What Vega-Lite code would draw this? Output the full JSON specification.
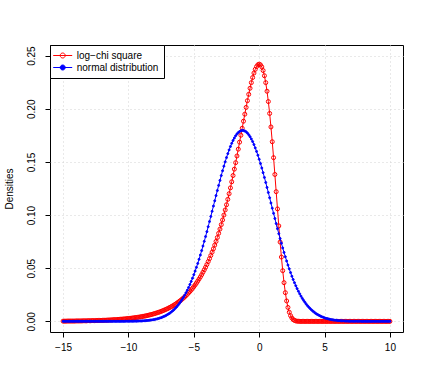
{
"$schema":"https://vega.github.io/schema/vega-lite/v6.json",
"width":353,"height":287,
"autosize":{"type":"none"},
"padding":{"left":50,"top":45,"right":26,"bottom":56},
"background":"white",
"config":{
"font":"Liberation Sans",
"view":{"stroke":"#000000","strokeWidth":1},
"axis":{"domain":false,"tickColor":"#000000","tickSize":5,"labelColor":"#000000","labelFontSize":10,"titleFontSize":10,"titleFontWeight":"normal","titleColor":"#000000","gridColor":"#D3D3D3","gridDash":[1,3],"gridWidth":1},
"legend":{"title":null,"orient":"top-left","offset":0,"padding":5,"strokeColor":"#000000","fillColor":"#FFFFFF","cornerRadius":0,"symbolType":"M-1.46,0H2.34M0.94,0A0.5,0.5 0 1,0 -0.06,0A0.5,0.5 0 1,0 0.94,0","symbolSize":100,"symbolStrokeWidth":1,"labelFontSize":10,"labelColor":"#000000","labelOffset":10.7,"rowPadding":1}
},
"data":{"values":[
{"x":-15,"lc":0.0002,"nd":0},{"x":-14.9,"lc":0.0002,"nd":0},{"x":-14.8,"lc":0.0002,"nd":0},{"x":-14.7,"lc":0.0003,"nd":0},{"x":-14.6,"lc":0.0003,"nd":0},
{"x":-14.5,"lc":0.0003,"nd":0},{"x":-14.4,"lc":0.0003,"nd":0},{"x":-14.3,"lc":0.0003,"nd":0},{"x":-14.2,"lc":0.0003,"nd":0},{"x":-14.1,"lc":0.0003,"nd":0},
{"x":-14,"lc":0.0004,"nd":0},{"x":-13.9,"lc":0.0004,"nd":0},{"x":-13.8,"lc":0.0004,"nd":0},{"x":-13.7,"lc":0.0004,"nd":0},{"x":-13.6,"lc":0.0004,"nd":0},
{"x":-13.5,"lc":0.0005,"nd":0},{"x":-13.4,"lc":0.0005,"nd":0},{"x":-13.3,"lc":0.0005,"nd":0},{"x":-13.2,"lc":0.0005,"nd":0},{"x":-13.1,"lc":0.0006,"nd":0},
{"x":-13,"lc":0.0006,"nd":0},{"x":-12.9,"lc":0.0006,"nd":0},{"x":-12.8,"lc":0.0007,"nd":0},{"x":-12.7,"lc":0.0007,"nd":0},{"x":-12.6,"lc":0.0007,"nd":0},
{"x":-12.5,"lc":0.0008,"nd":0},{"x":-12.4,"lc":0.0008,"nd":0},{"x":-12.3,"lc":0.0009,"nd":0},{"x":-12.2,"lc":0.0009,"nd":0},{"x":-12.1,"lc":0.0009,"nd":0},
{"x":-12,"lc":0.001,"nd":0},{"x":-11.9,"lc":0.001,"nd":0},{"x":-11.8,"lc":0.0011,"nd":0},{"x":-11.7,"lc":0.0011,"nd":0},{"x":-11.6,"lc":0.0012,"nd":0},
{"x":-11.5,"lc":0.0013,"nd":0},{"x":-11.4,"lc":0.0013,"nd":0},{"x":-11.3,"lc":0.0014,"nd":0},{"x":-11.2,"lc":0.0015,"nd":0},{"x":-11.1,"lc":0.0016,"nd":0},
{"x":-11,"lc":0.0016,"nd":0},{"x":-10.9,"lc":0.0017,"nd":0},{"x":-10.8,"lc":0.0018,"nd":0},{"x":-10.7,"lc":0.0019,"nd":0},{"x":-10.6,"lc":0.002,"nd":0},
{"x":-10.5,"lc":0.0021,"nd":0},{"x":-10.4,"lc":0.0022,"nd":0},{"x":-10.3,"lc":0.0023,"nd":0},{"x":-10.2,"lc":0.0024,"nd":0.0001},{"x":-10.1,"lc":0.0026,"nd":0.0001},
{"x":-10,"lc":0.0027,"nd":0.0001},{"x":-9.9,"lc":0.0028,"nd":0.0001},{"x":-9.8,"lc":0.003,"nd":0.0001},{"x":-9.7,"lc":0.0031,"nd":0.0001},{"x":-9.6,"lc":0.0033,"nd":0.0002},
{"x":-9.5,"lc":0.0035,"nd":0.0002},{"x":-9.4,"lc":0.0036,"nd":0.0002},{"x":-9.3,"lc":0.0038,"nd":0.0003},{"x":-9.2,"lc":0.004,"nd":0.0003},{"x":-9.1,"lc":0.0042,"nd":0.0004},
{"x":-9,"lc":0.0044,"nd":0.0004},{"x":-8.9,"lc":0.0047,"nd":0.0005},{"x":-8.8,"lc":0.0049,"nd":0.0006},{"x":-8.7,"lc":0.0051,"nd":0.0007},{"x":-8.6,"lc":0.0054,"nd":0.0008},
{"x":-8.5,"lc":0.0057,"nd":0.0009},{"x":-8.4,"lc":0.006,"nd":0.001},{"x":-8.3,"lc":0.0063,"nd":0.0012},{"x":-8.2,"lc":0.0066,"nd":0.0014},{"x":-8.1,"lc":0.007,"nd":0.0016},
{"x":-8,"lc":0.0073,"nd":0.0018},{"x":-7.9,"lc":0.0077,"nd":0.0021},{"x":-7.8,"lc":0.0081,"nd":0.0024},{"x":-7.7,"lc":0.0085,"nd":0.0027},{"x":-7.6,"lc":0.0089,"nd":0.0031},
{"x":-7.5,"lc":0.0094,"nd":0.0035},{"x":-7.4,"lc":0.0099,"nd":0.004},{"x":-7.3,"lc":0.0104,"nd":0.0045},{"x":-7.2,"lc":0.0109,"nd":0.0051},{"x":-7.1,"lc":0.0115,"nd":0.0057},
{"x":-7,"lc":0.012,"nd":0.0065},{"x":-6.9,"lc":0.0127,"nd":0.0072},{"x":-6.8,"lc":0.0133,"nd":0.0081},{"x":-6.7,"lc":0.014,"nd":0.0091},{"x":-6.6,"lc":0.0147,"nd":0.0101},
{"x":-6.5,"lc":0.0155,"nd":0.0112},{"x":-6.4,"lc":0.0162,"nd":0.0125},{"x":-6.3,"lc":0.0171,"nd":0.0138},{"x":-6.2,"lc":0.018,"nd":0.0153},{"x":-6.1,"lc":0.0189,"nd":0.0169},
{"x":-6,"lc":0.0198,"nd":0.0186},{"x":-5.9,"lc":0.0209,"nd":0.0205},{"x":-5.8,"lc":0.0219,"nd":0.0225},{"x":-5.7,"lc":0.023,"nd":0.0246},{"x":-5.6,"lc":0.0242,"nd":0.0269},
{"x":-5.5,"lc":0.0255,"nd":0.0293},{"x":-5.4,"lc":0.0268,"nd":0.0319},{"x":-5.3,"lc":0.0281,"nd":0.0347},{"x":-5.2,"lc":0.0295,"nd":0.0376},{"x":-5.1,"lc":0.0311,"nd":0.0406},
{"x":-5,"lc":0.0326,"nd":0.0439},{"x":-4.9,"lc":0.0343,"nd":0.0473},{"x":-4.8,"lc":0.036,"nd":0.0508},{"x":-4.7,"lc":0.0379,"nd":0.0545},{"x":-4.6,"lc":0.0398,"nd":0.0584},
{"x":-4.5,"lc":0.0418,"nd":0.0624},{"x":-4.4,"lc":0.0439,"nd":0.0666},{"x":-4.3,"lc":0.0462,"nd":0.0709},{"x":-4.2,"lc":0.0485,"nd":0.0753},{"x":-4.1,"lc":0.0509,"nd":0.0798},
{"x":-4,"lc":0.0535,"nd":0.0844},{"x":-3.9,"lc":0.0562,"nd":0.0891},{"x":-3.8,"lc":0.059,"nd":0.0939},{"x":-3.7,"lc":0.062,"nd":0.0987},{"x":-3.6,"lc":0.0651,"nd":0.1036},
{"x":-3.5,"lc":0.0683,"nd":0.1085},{"x":-3.4,"lc":0.0717,"nd":0.1134},{"x":-3.3,"lc":0.0752,"nd":0.1183},{"x":-3.2,"lc":0.0789,"nd":0.1231},{"x":-3.1,"lc":0.0828,"nd":0.1279},
{"x":-3,"lc":0.0868,"nd":0.1326},{"x":-2.9,"lc":0.091,"nd":0.1372},{"x":-2.8,"lc":0.0954,"nd":0.1417},{"x":-2.7,"lc":0.1,"nd":0.146},{"x":-2.6,"lc":0.1048,"nd":0.1501},
{"x":-2.5,"lc":0.1097,"nd":0.1541},{"x":-2.4,"lc":0.1148,"nd":0.1578},{"x":-2.3,"lc":0.1201,"nd":0.1613},{"x":-2.2,"lc":0.1256,"nd":0.1645},{"x":-2.1,"lc":0.1313,"nd":0.1675},
{"x":-2,"lc":0.1372,"nd":0.1702},{"x":-1.9,"lc":0.1432,"nd":0.1725},{"x":-1.8,"lc":0.1493,"nd":0.1746},{"x":-1.7,"lc":0.1556,"nd":0.1763},{"x":-1.6,"lc":0.162,"nd":0.1776},
{"x":-1.5,"lc":0.1686,"nd":0.1786},{"x":-1.4,"lc":0.1751,"nd":0.1793},{"x":-1.3,"lc":0.1817,"nd":0.1796},{"x":-1.2,"lc":0.1883,"nd":0.1795},{"x":-1.1,"lc":0.1949,"nd":0.1791},
{"x":-1,"lc":0.2013,"nd":0.1783},{"x":-0.9,"lc":0.2076,"nd":0.1771},{"x":-0.8,"lc":0.2136,"nd":0.1756},{"x":-0.7,"lc":0.2193,"nd":0.1738},{"x":-0.6,"lc":0.2246,"nd":0.1716},
{"x":-0.5,"lc":0.2294,"nd":0.1691},{"x":-0.4,"lc":0.2336,"nd":0.1663},{"x":-0.3,"lc":0.2371,"nd":0.1632},{"x":-0.2,"lc":0.2397,"nd":0.1599},{"x":-0.1,"lc":0.2414,"nd":0.1563},
{"x":0,"lc":0.242,"nd":0.1525},{"x":0.1,"lc":0.2413,"nd":0.1485},{"x":0.2,"lc":0.2394,"nd":0.1443},{"x":0.3,"lc":0.236,"nd":0.1399},{"x":0.4,"lc":0.2311,"nd":0.1354},
{"x":0.5,"lc":0.2246,"nd":0.1307},{"x":0.6,"lc":0.2165,"nd":0.126},{"x":0.7,"lc":0.2068,"nd":0.1212},{"x":0.8,"lc":0.1956,"nd":0.1163},{"x":0.9,"lc":0.1829,"nd":0.1114},
{"x":1,"lc":0.169,"nd":0.1065},{"x":1.1,"lc":0.154,"nd":0.1016},{"x":1.2,"lc":0.1382,"nd":0.0968},{"x":1.3,"lc":0.122,"nd":0.092},{"x":1.4,"lc":0.1058,"nd":0.0872},
{"x":1.5,"lc":0.0898,"nd":0.0825},{"x":1.6,"lc":0.0746,"nd":0.0779},{"x":1.7,"lc":0.0605,"nd":0.0735},{"x":1.8,"lc":0.0477,"nd":0.0691},{"x":1.9,"lc":0.0364,"nd":0.0649},
{"x":2,"lc":0.027,"nd":0.0608},{"x":2.1,"lc":0.0192,"nd":0.0568},{"x":2.2,"lc":0.0131,"nd":0.053},{"x":2.3,"lc":0.0086,"nd":0.0494},{"x":2.4,"lc":0.0054,"nd":0.0459},
{"x":2.5,"lc":0.0032,"nd":0.0425},{"x":2.6,"lc":0.0017,"nd":0.0394},{"x":2.7,"lc":0.0009,"nd":0.0364},{"x":2.8,"lc":0.0004,"nd":0.0335},{"x":2.9,"lc":0.0002,"nd":0.0308},
{"x":3,"lc":0.0001,"nd":0.0283},{"x":3.1,"lc":0,"nd":0.0259},{"x":3.2,"lc":0,"nd":0.0237},{"x":3.3,"lc":0,"nd":0.0216},{"x":3.4,"lc":0,"nd":0.0197},
{"x":3.5,"lc":0,"nd":0.0179},{"x":3.6,"lc":0,"nd":0.0162},{"x":3.7,"lc":0,"nd":0.0147},{"x":3.8,"lc":0,"nd":0.0133},{"x":3.9,"lc":0,"nd":0.012},
{"x":4,"lc":0,"nd":0.0108},{"x":4.1,"lc":0,"nd":0.0097},{"x":4.2,"lc":0,"nd":0.0087},{"x":4.3,"lc":0,"nd":0.0077},{"x":4.4,"lc":0,"nd":0.0069},
{"x":4.5,"lc":0,"nd":0.0062},{"x":4.6,"lc":0,"nd":0.0055},{"x":4.7,"lc":0,"nd":0.0049},{"x":4.8,"lc":0,"nd":0.0043},{"x":4.9,"lc":0,"nd":0.0038},
{"x":5,"lc":0,"nd":0.0033},{"x":5.1,"lc":0,"nd":0.0029},{"x":5.2,"lc":0,"nd":0.0026},{"x":5.3,"lc":0,"nd":0.0023},{"x":5.4,"lc":0,"nd":0.002},
{"x":5.5,"lc":0,"nd":0.0017},{"x":5.6,"lc":0,"nd":0.0015},{"x":5.7,"lc":0,"nd":0.0013},{"x":5.8,"lc":0,"nd":0.0011},{"x":5.9,"lc":0,"nd":0.001},
{"x":6,"lc":0,"nd":0.0008},{"x":6.1,"lc":0,"nd":0.0007},{"x":6.2,"lc":0,"nd":0.0006},{"x":6.3,"lc":0,"nd":0.0005},{"x":6.4,"lc":0,"nd":0.0005},
{"x":6.5,"lc":0,"nd":0.0004},{"x":6.6,"lc":0,"nd":0.0003},{"x":6.7,"lc":0,"nd":0.0003},{"x":6.8,"lc":0,"nd":0.0002},{"x":6.9,"lc":0,"nd":0.0002},
{"x":7,"lc":0,"nd":0.0002},{"x":7.1,"lc":0,"nd":0.0001},{"x":7.2,"lc":0,"nd":0.0001},{"x":7.3,"lc":0,"nd":0.0001},{"x":7.4,"lc":0,"nd":0.0001},
{"x":7.5,"lc":0,"nd":0.0001},{"x":7.6,"lc":0,"nd":0.0001},{"x":7.7,"lc":0,"nd":0.0001},{"x":7.8,"lc":0,"nd":0},{"x":7.9,"lc":0,"nd":0},
{"x":8,"lc":0,"nd":0},{"x":8.1,"lc":0,"nd":0},{"x":8.2,"lc":0,"nd":0},{"x":8.3,"lc":0,"nd":0},{"x":8.4,"lc":0,"nd":0},
{"x":8.5,"lc":0,"nd":0},{"x":8.6,"lc":0,"nd":0},{"x":8.7,"lc":0,"nd":0},{"x":8.8,"lc":0,"nd":0},{"x":8.9,"lc":0,"nd":0},
{"x":9,"lc":0,"nd":0},{"x":9.1,"lc":0,"nd":0},{"x":9.2,"lc":0,"nd":0},{"x":9.3,"lc":0,"nd":0},{"x":9.4,"lc":0,"nd":0},
{"x":9.5,"lc":0,"nd":0},{"x":9.6,"lc":0,"nd":0},{"x":9.7,"lc":0,"nd":0},{"x":9.8,"lc":0,"nd":0},{"x":9.9,"lc":0,"nd":0},
{"x":10,"lc":0,"nd":0}
]},
"transform":[{"fold":["lc","nd"],"as":["series","density"]}],
"encoding":{
"x":{"field":"x","type":"quantitative","scale":{"domain":[-16,11],"nice":false,"zero":false},"axis":{"values":[-15,-10,-5,0,5,10],"title":null,"labelPadding":5,"labelFlush":false}},
"y":{"field":"density","type":"quantitative","scale":{"domain":[-0.01,0.26],"nice":false,"zero":false},"axis":{"values":[0,0.05,0.1,0.15,0.2,0.25],"format":".2f","title":"Densities","labelAngle":-90,"labelAlign":"center","labelBaseline":"bottom","labelPadding":9,"titlePadding":12}}
},
"layer":[
{"transform":[{"filter":"datum.series == 'lc'"}],"mark":{"type":"line","strokeWidth":1,"color":"#FF0000"}},
{"transform":[{"filter":"datum.series == 'lc'"}],"mark":{"type":"point","shape":"circle","size":16,"strokeWidth":1,"opacity":1},
 "encoding":{
 "stroke":{"field":"series","type":"nominal","scale":{"domain":["lc","nd"],"range":["#FF0000","#0000FF"]},"legend":{"labelExpr":"datum.label == 'lc' ? 'log−chi square' : 'normal distribution'"}},
 "fill":{"field":"series","type":"nominal","scale":{"domain":["lc","nd"],"range":["transparent","#0000FF"]},"legend":{"labelExpr":"datum.label == 'lc' ? 'log−chi square' : 'normal distribution'"}}
 }},
{"transform":[{"filter":"datum.series == 'nd'"}],"mark":{"type":"line","strokeWidth":1,"color":"#0000FF"}},
{"transform":[{"filter":"datum.series == 'nd'"}],"mark":{"type":"point","shape":"circle","size":4,"strokeWidth":1,"opacity":1},
 "encoding":{
 "stroke":{"field":"series","type":"nominal","scale":{"domain":["lc","nd"],"range":["#FF0000","#0000FF"]},"legend":{"labelExpr":"datum.label == 'lc' ? 'log−chi square' : 'normal distribution'"}},
 "fill":{"field":"series","type":"nominal","scale":{"domain":["lc","nd"],"range":["transparent","#0000FF"]},"legend":{"labelExpr":"datum.label == 'lc' ? 'log−chi square' : 'normal distribution'"}}
 }}
]
}
